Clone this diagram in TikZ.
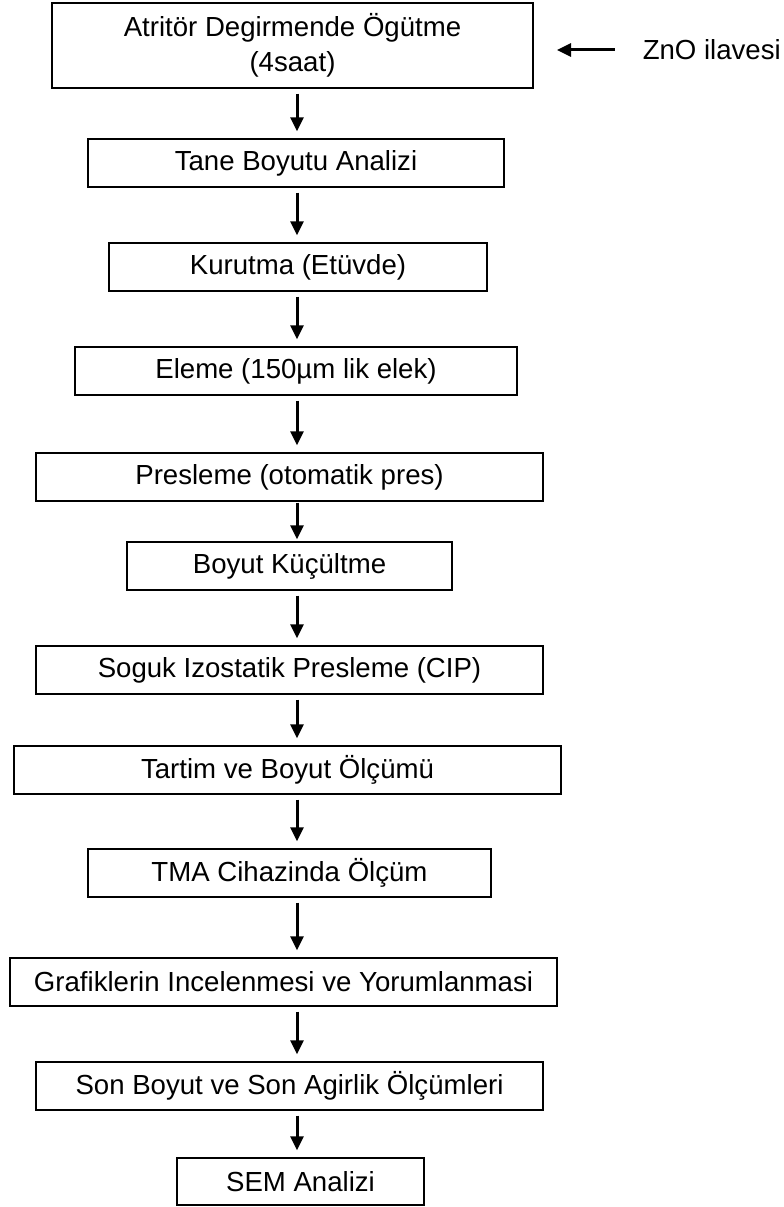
\documentclass[tikz,border=0pt]{standalone}
\usepackage{fontspec}
\setmainfont{Liberation Sans}
\usetikzlibrary{arrows.meta}

\begin{document}
\begin{tikzpicture}[x=1pt, y=-1pt,
        box/.style={draw, line width=1.4pt, inner sep=0pt, minimum height=48pt, align=center, font=\fontsize{27.6}{35}\selectfont},
        flow/.style={-{Triangle[width=13pt,length=14pt]}, line width=3pt, shorten <=5pt, shorten >=7pt}]
        \useasboundingbox (0,0) rectangle (784,1207);
        \coordinate (axis) at (297,0);

        \node[box, minimum width=481pt, minimum height=85pt] (milling) at (292.5,45.5) {Atritör Degirmende Ögütme\\(4saat)};
        \node[box, minimum width=416pt] (grain) at (296,163) {Tane Boyutu Analizi};
        \node[box, minimum width=378pt] (drying) at (298,267) {Kurutma (Etüvde)};
        \node[box, minimum width=442pt] (sieving) at (296,371) {Eleme (150µm lik elek)};
        \node[box, minimum width=507pt] (pressing) at (289.5,477) {Presleme (otomatik pres)};
        \node[box, minimum width=325pt] (crushing) at (289.5,566) {Boyut Küçültme};
        \node[box, minimum width=507pt] (cip) at (289.5,670) {Soguk Izostatik Presleme (CIP)};
        \node[box, minimum width=547pt] (weighing) at (287.5,770) {Tartim ve Boyut Ölçümü};
        \node[box, minimum width=403pt] (tma) at (289.5,873) {TMA Cihazinda Ölçüm};
        \node[box, minimum width=547pt] (graphs) at (283.5,982) {Grafiklerin Incelenmesi ve Yorumlanmasi};
        \node[box, minimum width=507pt] (final) at (289.5,1086) {Son Boyut ve Son Agirlik Ölçümleri};
        \node[box, minimum width=247pt, minimum height=47pt] (sem) at (300.5,1181.5) {SEM Analizi};

        \node[anchor=east, inner sep=0pt, font=\fontsize{27.6}{35}\selectfont] (zno) at (781,50) {ZnO ilavesi};
        \coordinate (zno_end) at (557,50);

        \draw[flow] (milling.south -| axis) -- (grain.north -| axis);
        \draw[flow] (grain.south -| axis) -- (drying.north -| axis);
        \draw[flow] (drying.south -| axis) -- (sieving.north -| axis);
        \draw[flow] (sieving.south -| axis) -- (pressing.north -| axis);
        \draw[flow, shorten <=1pt, shorten >=2pt] (pressing.south -| axis) -- (crushing.north -| axis);
        \draw[flow] (crushing.south -| axis) -- (cip.north -| axis);
        \draw[flow] (cip.south -| axis) -- (weighing.north -| axis);
        \draw[flow] (weighing.south -| axis) -- (tma.north -| axis);
        \draw[flow] (tma.south -| axis) -- (graphs.north -| axis);
        \draw[flow] (graphs.south -| axis) -- (final.north -| axis);
        \draw[flow] (final.south -| axis) -- (sem.north -| axis);
        \draw[flow, shorten <=28pt, shorten >=0pt] (zno.west) -- (zno_end);
\end{tikzpicture}
\end{document}
